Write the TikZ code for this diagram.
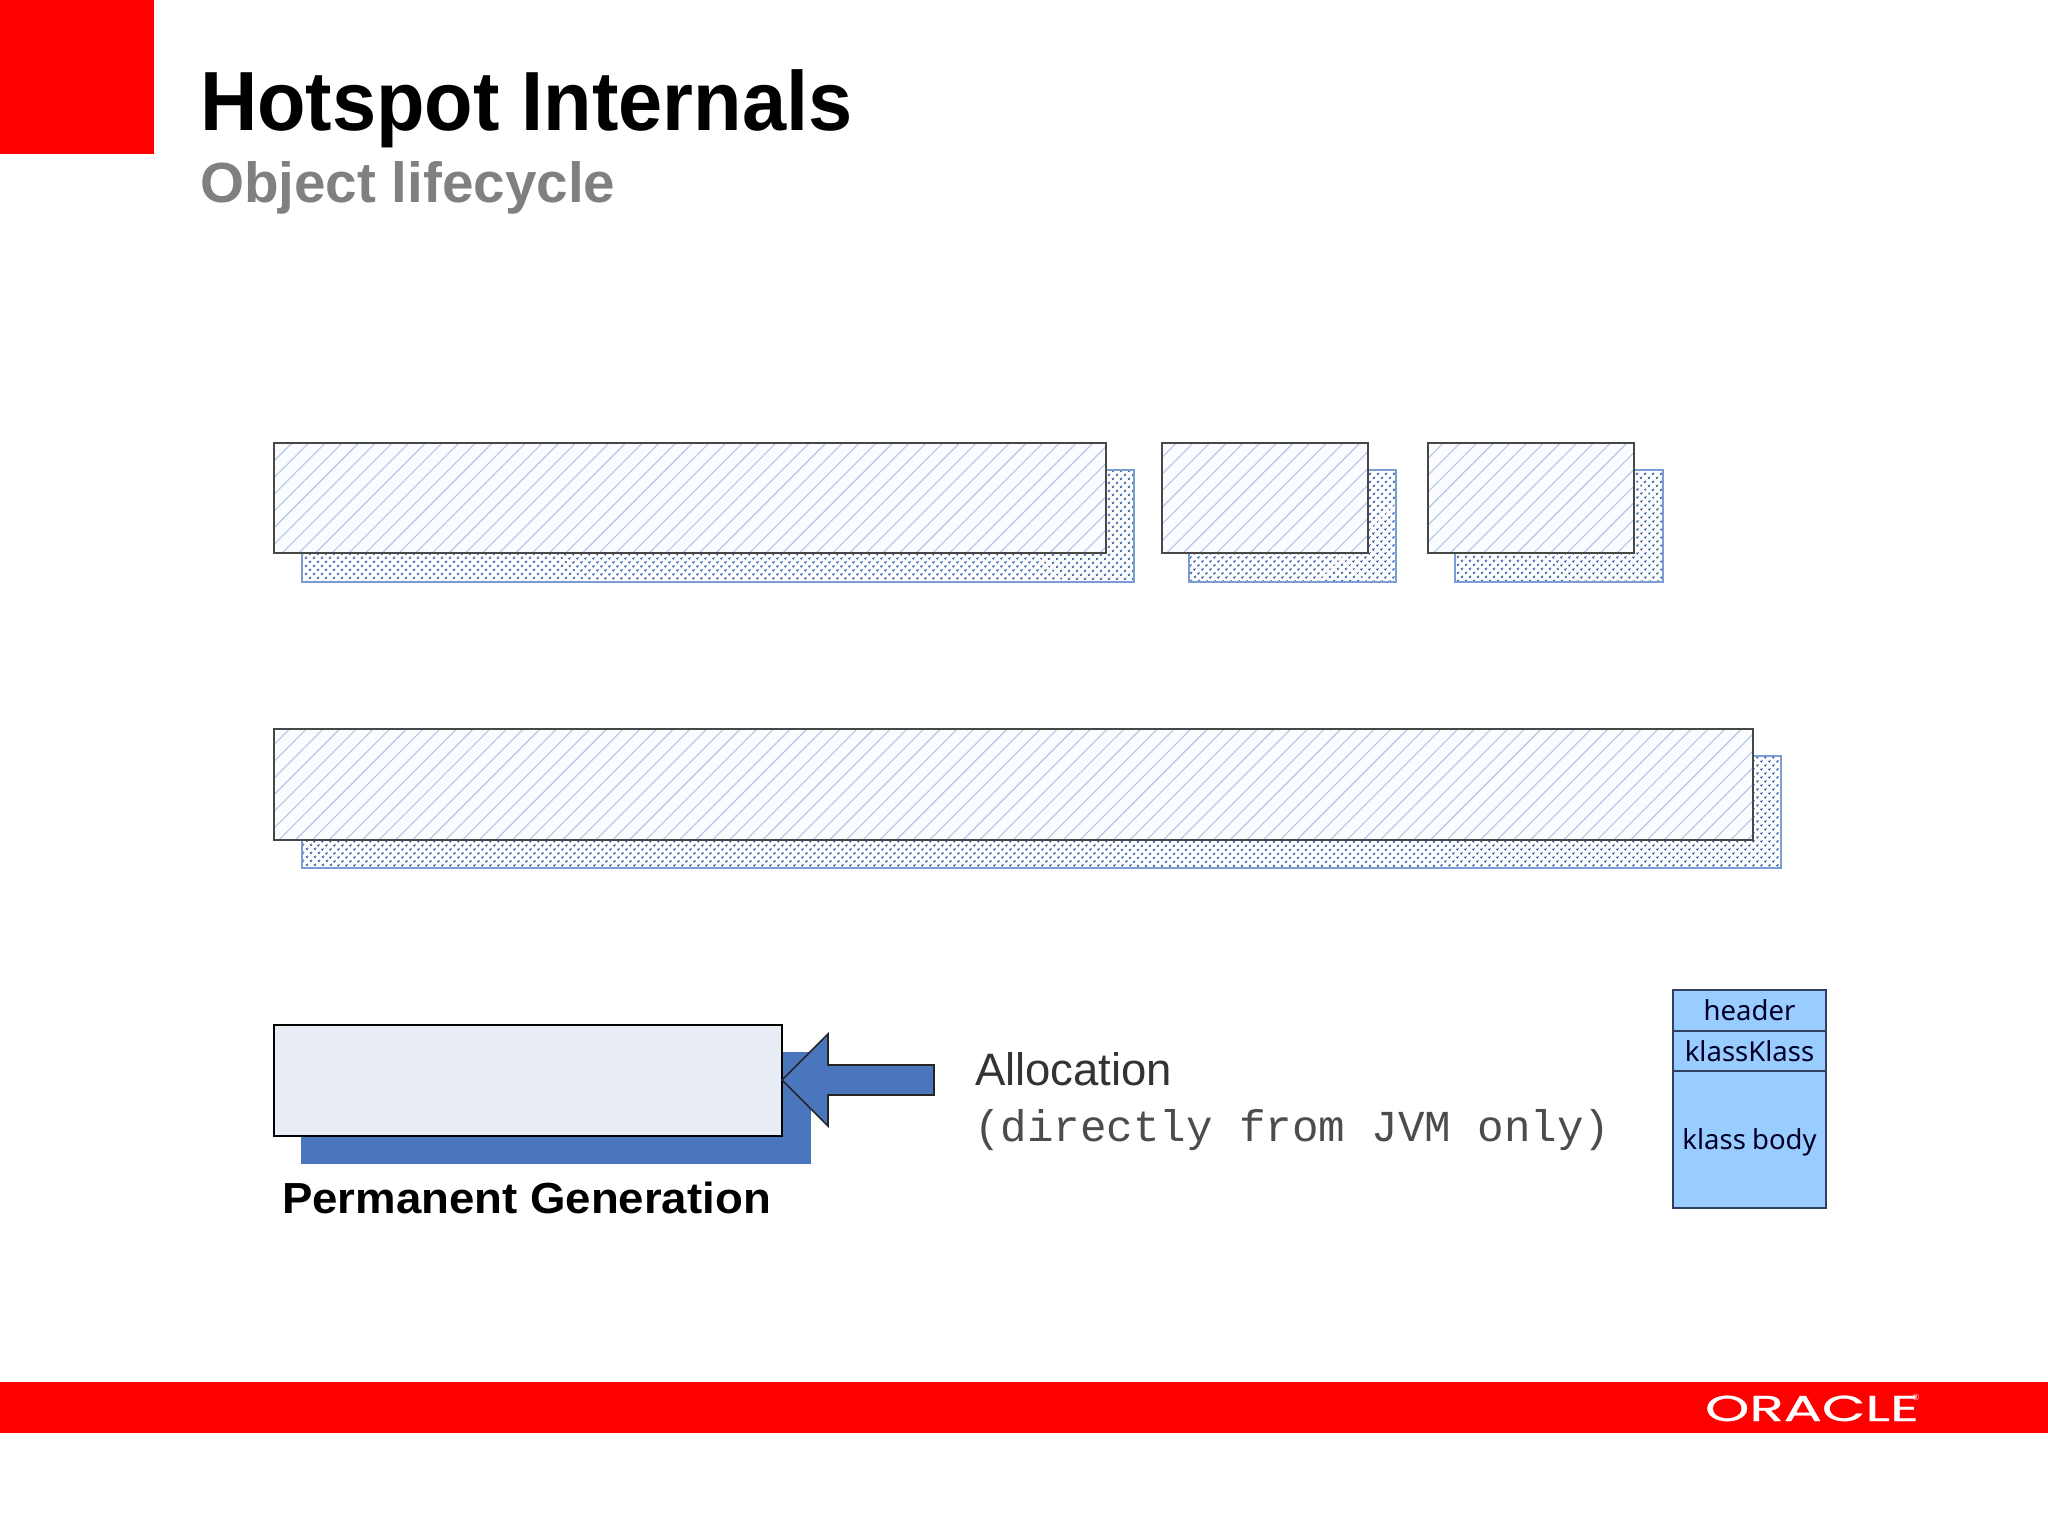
\documentclass[tikz,border=0pt]{standalone}
\usepackage{fontspec}
\setmainfont{Liberation Sans}
\newfontfamily\monof{Liberation Mono}
\newfontfamily\boxf{Noto Sans}
\newfontfamily\logof[FakeBold=0.7]{Poppins}
\usetikzlibrary{patterns.meta}
\definecolor{oraRed}{HTML}{FF0000}
\definecolor{shadowBlue}{HTML}{4A76BE}
\definecolor{hatchCol}{HTML}{B4C6E4}
\definecolor{dotCol}{HTML}{2F5BA8}
\definecolor{edgeBlue}{HTML}{7C9CD4}
\definecolor{paleFill}{HTML}{E9EDF6}
\definecolor{klassFill}{HTML}{99CCFF}
\definecolor{klassEdge}{HTML}{2F3F5F}
\definecolor{subGray}{HTML}{808080}
\definecolor{hatchFill}{HTML}{FBFCFF}
\tikzset{
  x=1pt,y=-1pt,
  txt/.style={inner sep=0pt,outer sep=0pt,anchor=base west},
  ctxt/.style={inner sep=0pt,outer sep=0pt,anchor=center,font=\boxf\fontsize{27.5}{30}\selectfont,text=black!85!blue},
  dotted shadow/.style={draw=edgeBlue,line width=1.8pt,
    preaction={fill=white},
    pattern={Dots[angle=45,distance=5.4pt,radius=1.4pt]},pattern color=dotCol},
  hatched box/.style={draw=black!72,line width=2.8pt,
    preaction={fill=hatchFill},
    preaction={pattern={Lines[angle=45,distance=11.8pt,line width=1.1pt]},pattern color=hatchCol}},
  klass part/.style={draw=klassEdge,line width=1.4pt,fill=klassFill},
}
\begin{document}
\begin{tikzpicture}
\useasboundingbox (0,0) rectangle (2048,1536);
\fill[white] (0,0) rectangle (2048,1536);
% red corner and bar
\fill[oraRed] (0,0) rectangle (154,154);
\fill[oraRed] (0,1382) rectangle (2048,1433);
% titles
\node[txt,font=\bfseries\fontsize{84}{90}\selectfont,xscale=0.945] (title) at (200,131) {Hotspot Internals};
\node[txt,font=\bfseries\fontsize{56.6}{60}\selectfont,text=subGray] (subtitle) at (200,202) {Object lifecycle};
% row 1
\path[dotted shadow] (302,470) rectangle (1134,582);
\path[hatched box] (274,443) rectangle (1106,553);
\path[dotted shadow] (1189,470) rectangle (1396,582);
\path[hatched box] (1162,443) rectangle (1368,553);
\path[dotted shadow] (1455,470) rectangle (1663,582);
\path[hatched box] (1428,443) rectangle (1634,553);
% row 2
\path[dotted shadow] (302,756) rectangle (1781,868);
\path[hatched box] (274,729) rectangle (1753,840);
% row 3
\fill[shadowBlue] (301,1052) rectangle (811,1164);
\draw[black,line width=2pt,fill=paleFill] (274,1025) rectangle (782,1136);
\draw[black!85,line width=1.6pt,fill=shadowBlue,line join=miter]
  (782,1080) -- (828,1034) -- (828,1065) -- (934,1065) -- (934,1095) -- (828,1095) -- (828,1126) -- cycle;
\node[txt,font=\bfseries\fontsize{43.5}{46}\selectfont,xscale=1.048] (permgen) at (282,1213) {Permanent Generation};
% labels
\node[txt,font=\fontsize{45.5}{48}\selectfont,text=black!80] (alloc) at (975,1085) {Allocation};
\node[txt,font=\monof\fontsize{44.2}{48}\selectfont,text=black!70] (direct) at (974,1141) {(directly from JVM only)};
% klass box
\path[klass part] (1673,990) rectangle (1826,1031);
\path[klass part] (1673,1031) rectangle (1826,1071);
\path[klass part] (1673,1071) rectangle (1826,1208);
\node[ctxt] (header) at (1749.5,1010) {header};
\node[ctxt] (klassklass) at (1749.5,1051) {klassKlass};
\node[ctxt] (body) at (1749.5,1142) {klass\hspace{-1pt} body};
% logo
\node[inner sep=0pt,outer sep=0pt,anchor=base west,text=white,font=\logof\fontsize{36}{38}\selectfont,xscale=1.57] (oracle) at (1705,1421) {ORACLE};
\node[inner sep=0pt,outer sep=0pt,anchor=center,text=white,font=\fontsize{9}{10}\selectfont] (reg) at (1916,1397) {®};
\end{tikzpicture}
\end{document}
